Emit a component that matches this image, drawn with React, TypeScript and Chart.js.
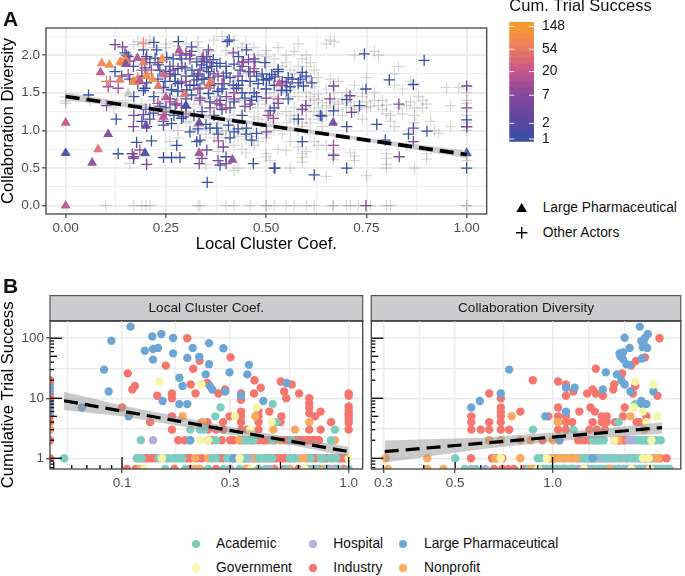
import React, { useEffect, useRef } from "react";
import { Chart, registerables } from "chart.js";
Chart.register(...registerables);

type P = [number, number];
const FONT = "'Liberation Sans', Arial, sans-serif";

/* ---------- Panel A values: [Local Cluster Coef., Collaboration Diversity] ---------- */
const otherGrey: P[] = [[.1,0],[.17,0],[.19,0],[.2,0],[.21,0],[.33,0],[.335,0],[.4,0],[.42,0],[.46,0],[.5,0],[.5,0],[.52,0],[.55,0],[.57,0],[.6,0],[.62,0],[.667,0],[.667,0],[.7,0],[.71,0],[.73,0],[.76,0],[.8,0],[.81,0],[1,0],[1,0],
[.0,.69],[.0,1.45],[.0,1.39],[.16,.56],[.2,.65],[.26,.85],[.28,.9],[.34,.65],[.35,.55],[.42,.47],[.43,.5],[.45,.7],[.47,.8],[.5,.69],[.5,.65],[.51,.6],[.5,.9],[.53,.75],[.55,.73],[.56,.5],[.59,.69],[.59,.64],[.59,.58],[.63,.8],[.65,.8],[.667,.69],[.667,.66],[.667,.62],[.71,.7],[.72,.66],[.72,.6],[.65,.39],[.75,.4],[.8,.69],[.8,.63],[.8,.55],[.8,.5],[.87,.5],[.9,.69],[.9,.62],[1,.69],[1,.65],[1,.6],[.85,.8],[.93,.96],[.96,1.05],[1,1.0],[1,1.05],[1,1.1],[1,1.2],[1,1.3],[1,1.36],[1,1.4],[1,1.5],[1,1.55],[.98,1.57],[.95,1.57],[.96,1.33],[.9,1.35],[.89,1.4],[.87,1.3],[.87,1.2],[.87,1.1],[.82,1.05],[.81,1.2],[.8,1.34],[.79,1.4],[.77,1.4],[.75,1.3],[.74,1.15],[.72,1.25],[.7,1.3],[.69,1.2],[.68,1.35],[.67,1.5],[.63,1.4],[.63,1.3],[.62,1.25],[.61,1.35],[.6,1.4],[.6,1.15],[.59,1.05],[.58,1.0],[.61,.95],[.62,.85],[.64,1.05],[.57,1.3],[.56,1.2],[.55,1.25],[.53,1.38],[.52,1.1],[.5,1.05],[.48,1.15],[.46,1.3],[.44,1.1],[.42,1.2],[.4,1.0],[.38,1.1],[.36,1.2],[.34,1.3],[.32,1.0],[.3,1.1],[.28,1.0],[.26,1.25],[.24,1.35],[.22,1.4],
[.33,2.18],[.37,2.2],[.39,2.25],[.42,2.2],[.44,2.1],[.48,2.0],[.5,2.06],[.53,2.1],[.55,2.0],[.57,2.05],[.58,2.15],[.6,2.0],[.59,1.95],[.61,1.9],[.65,2.15],[.66,2.2],[.67,2.18],[.72,2.0],[.77,2.05],[.78,2.0],[.55,1.9],[.5,1.85],[.52,1.8],[.57,1.75],[.62,1.8],[.63,1.7],[.66,1.68],[.68,1.65],[.72,1.6],[.75,1.7],[.82,1.75],[.83,1.85],[.82,1.6],[.84,1.55],[.86,1.65],[.77,1.5],[.74,1.55],[.7,1.5],[.65,1.55],[.62,1.58],[.6,1.5],[.58,1.45],[.55,1.6],[.51,1.5],[.48,1.55],[.46,1.6],[.17,2.14],[.18,2.18],[.2,2.15],[.22,2.1],[.25,2.1],[.3,2.15],[.36,2.05],[.4,2.06],[.3,1.3],[.33,1.45],[.37,1.5],[.41,1.55],[.44,1.4],[.48,1.3],[.5,1.35],[.38,1.6],[.42,1.65],[.45,1.75],[.12,1.3],[.06,1.39],[.0,1.36],[.24,1.5],[.26,1.55],[.28,1.45],[.56,1.0],[.54,.95],[.58,1.2],
[.31,1.12],[.33,1.05],[.35,.95],[.37,.9],[.39,.98],[.41,1.12],[.43,.92],[.45,.88],[.47,1.18],[.49,1.1],[.51,1.18],[.53,1.22],[.55,1.1],[.57,1.12],[.59,1.28],[.6,1.25],[.61,1.45],[.62,1.42],[.63,1.48],[.64,1.37],[.65,1.33],[.66,1.3],[.67,1.38],[.68,1.28],[.69,1.42],[.7,1.37],[.71,1.33],[.72,1.38],[.73,1.28],[.74,1.45],[.75,1.38],[.76,1.32],[.78,1.33],[.79,1.28],[.8,1.22],[.81,1.12],[.83,1.3],[.84,1.22],[.85,1.33],[.86,1.38],[.88,1.45],[.89,1.3],[.91,1.12],[.92,1.0],[.55,1.5],[.56,1.45],[.57,1.55],[.58,1.6],[.59,1.7],[.6,1.65],[.61,1.7],[.6,1.85],[.58,1.85],[.56,1.8],[.54,1.85],[.52,1.95],[.5,1.98],[.47,2.1],[.45,2.15],[.43,2.05],[.33,2.1],[.28,2.12],[.25,2.15],[.21,2.2],[.57,1.15],[.59,1.1],[.61,1.1],[.63,1.15],[.65,1.2],[.67,1.1],[.52,1.0],[.5,.95],[.48,.85],[.46,.92],[.44,.75],[.42,.8],[.4,.9],[.38,.72],[.56,.85],[.58,.78],[.6,.72],[.25,1.15],[.23,1.2],[.21,1.3],[.19,1.35],[.17,1.3],[.15,1.4],[.28,1.2],[.3,1.25],[.32,1.35],[.34,1.4],[.36,1.42],[.38,1.45],[.4,1.42],[.42,1.4],[.5,1.55],[.52,1.45],[.54,1.55],[.46,1.5],[.44,1.55],[.48,1.4]];
const otherBlue: P[] = [[.057,1.47],[.126,1.15],[.131,.69],[.177,.84],[.214,.86],[.244,.64],[.264,.64],[.285,.64],[.277,.8],[.335,.87],[.327,.85],[.353,.31],[.385,.54],[.4,.65],[.468,.56],[.52,.5],[.31,.98],[.264,1.09],[.289,1.16],[.36,1.03],[.377,1.03],[.406,1.07],[.451,1.03],[.476,.96],[.464,.87],[.194,1.53],[.198,1.56],[.202,1.63],
[.745,2.017],[.894,1.93],[.807,1.67],[.867,1.61],[.749,1.55],[.701,1.41],[.733,1.33],[.668,1.26],[.639,1.19],[.58,1.15],[.776,1.08],[.701,1.05],[.855,.95],[.901,.99],[.797,.87],[.59,.85],[.522,.5],[.62,.41],[.701,.5],[1,.5],[1,1.14],[1,1.05],[.635,1.2],
[.281,2.18],[.22,2.17],[.403,2.18],[.408,2.2],[.194,2.07],[.227,2.07],[.314,2.11],[.451,2.07],[.148,2.03],[.156,1.98],[.202,1.98],[.223,1.96],[.252,1.97],[.268,1.95],[.289,1.95],[.31,2.0],[.327,1.91],[.352,1.98],[.368,1.94],[.385,1.89],[.431,1.98],[.443,1.91],[.472,1.91],[.497,1.9],[.123,1.78],[.169,1.85],[.198,1.83],[.231,1.87],[.339,1.87],[.352,1.83],[.364,1.85],[.377,1.85],[.356,1.78],[.298,1.83],[.273,1.74],[.401,1.76],[.435,1.8],[.456,1.78],[.476,1.72],[.514,1.74],[.53,1.78],[.493,1.67],[.501,1.67],[.508,1.69],[.248,1.65],[.273,1.65],[.289,1.63],[.31,1.6],[.327,1.67],[.335,1.56],[.356,1.49],[.244,1.57],[.264,1.54],[.302,1.54],[.314,1.47],[.335,1.43],[.36,1.38],[.385,1.4],[.418,1.6],[.431,1.6],[.426,1.56],[.476,1.45],[.447,1.43],[.464,1.4],[.219,1.23],[.244,1.07],[.293,1.18],[.235,1.32],[.273,1.34],
[.522,1.71],[.53,1.81],[.555,1.7],[.551,1.53],[.555,1.42],[.538,1.53],[.59,1.77],[.593,1.59],[.614,1.63],[.51,1.26],[.52,1.3],[.565,1.68],[.585,1.68],[.54,1.65],[.345,1.68],[.32,1.72],[.41,1.3],[.44,1.2],[.42,.98],[.3,1.3],[.2,1.28],[.17,1.45],[.39,1.55],[.26,1.85],
[.14,1.72],[.16,1.68],[.18,1.62],[.19,1.72],[.21,1.9],[.235,1.8],[.25,1.78],[.26,1.72],[.28,1.82],[.3,1.72],[.315,1.8],[.33,1.75],[.345,1.92],[.36,1.7],[.37,1.62],[.38,1.52],[.395,1.62],[.41,1.7],[.42,1.88],[.44,1.66],[.46,1.65],[.48,1.62],[.5,1.55],[.47,1.5],[.44,1.5],[.42,1.38],[.39,1.28],[.37,1.2],[.34,1.25],[.32,1.2],[.3,1.42],[.28,1.52],[.26,1.42],[.25,1.3],[.22,1.45],[.21,1.15],[.19,1.12],[.27,1.2],[.35,1.08],[.33,1.02],[.38,.95],[.41,.9],[.43,1.02],[.45,.95],[.28,1.62],[.23,1.68],[.32,1.6],[.52,1.6],[.54,1.6],[.56,1.58],[.58,1.63],[.6,1.72],[.34,1.68],[.36,1.6],[.4,1.85],[.47,1.78],[.49,1.75]];
const otherPurple: P[] = [[.123,2.14],[.142,2.11],[.152,2.0],[.285,2.0],[.314,2.05],[.343,1.98],[.356,2.07],[.268,1.8],[.335,1.8],[.393,1.72],[.418,2.03],[.456,1.94],[.46,1.78],[.385,1.34],[.401,1.45],[.447,1.32],[.102,1.33],[.169,1.05],[.194,1.21],[.202,1.05],[.244,1.12],[.166,.69],[.169,.63],[.202,.55],[.333,.56],[.352,.74],[.393,.78],[.4,.56],[.501,.98],[.668,1.59],[.709,1.46],[.659,1.42],[.599,1.33],[.713,1.24],[.831,1.35],[1,1.59],[.668,.67],[.832,.65],[.867,1.03],[.867,.85],[.749,0],[1,1.05],[.31,1.95],[.38,1.72],[.34,1.95],
[.16,1.92],[.2,1.95],[.23,1.9],[.26,1.75],[.29,1.85],[.3,2.02],[.33,1.72],[.36,1.9],[.37,1.75],[.39,1.62],[.43,1.72],[.47,1.95],[.44,1.85],[.17,1.2],[.21,1.28],[.3,1.22],[.36,1.3],[.42,1.42],[.46,1.35],[.5,1.43],[.53,1.36],[.55,1.63],[.59,1.28],[.17,.65],[.34,.63],[.38,.6],[.25,1.25]];
const otherPink: P[] = [[.131,1.56],[.106,1.58],[.111,1.65],[.156,1.74],[.214,1.8],[.277,1.36],[.289,1.33],[.335,1.4],[.377,1.36],[.244,1.21],[.381,.86],[.185,.74],[.518,1.16],[1,1.3],[.668,.8],[.53,1.42],[.505,1.2],[.23,1.36],[.26,1.38],[.3,1.65],[.33,1.55],[.4,1.3],[.42,1.5],[.19,1.8],[.44,1.9],[.47,1.82]];
const otherCoral: P[] = [[.194,2.16],[.102,1.65],[.205,1.75],[.18,1.7]];
const pharmaPts: P[] = [[.09,1.89],[.109,1.87],[.136,1.91],[.149,1.94],[.14,1.9],[.15,1.88],[.179,1.96],[.194,1.9],[.241,1.95],[.283,2.06],[.087,1.77],[.135,1.67],[.169,1.65],[.173,1.64],[.184,1.66],[.202,1.72],[.217,1.68],[.244,1.74],[.231,1.59],[.362,1.65],[.356,1.59],[.296,1.48],[.25,1.44],[.156,1.49],[.3,1.33],[.244,1.18],[.333,1.1],[.2,1.06],[0,1.1],[.106,.95],[0,.7],[.081,.75],[.066,.57],[.198,.7],[.333,.7],[.416,.61],[0,0],[.533,1.62],[.667,1.1],[1,.7]];
const pharmaSuccess = [70,90,100,110,95,6,14,55,100,13,17,55,100,90,20,90,100,30,45,55,45,45,18,0,1,16,3,3,18,5,1.2,40,7,1.2,10,6,14,20,4,1];

const lineAX = [0, 1];
const lineAY = [1.45, .68];
const ribbonAX = [0, .25, .5, .75, 1];
const ribbonAHi = [1.5, 1.295, 1.095, .9, .73];
const ribbonALo = [1.4, 1.245, 1.055, .85, .63];

const axisAXTicks = [0, .125, .25, .375, .5, .625, .75, .875, 1];
const axisAXMajor = [0, .25, .5, .75, 1];
const axisAYTicks = [0, .25, .5, .75, 1, 1.25, 1.5, 1.75, 2, 2.25];
const axisAYMajor = [0, .5, 1, 1.5, 2];

/* ---------- colour scale ---------- */
const successStops = [1, 2, 7, 20, 54, 148];
const colourStops = [[58, 79, 166], [88, 71, 158], [133, 72, 155], [198, 85, 143], [235, 122, 98], [249, 155, 46]];
const legendBreaks = [1, 2, 7, 20, 54, 148];
const binEdges = [.887, 1.16, 1.51, 1.97, 2.57, 3.36, 4.38, 5.72, 7.46, 9.74, 12.7, 16.6, 21.6, 28.2, 36.8, 48.1, 62.7, 81.8, 107, 139, 181];

function successColour(v: number) {
  const l = Math.log10(Math.max(v, 1));
  for (let i = 0; i < successStops.length - 1; i++) {
    const a = Math.log10(successStops[i]), b = Math.log10(successStops[i + 1]);
    if (l <= b || i === successStops.length - 2) {
      const t = Math.min(1, (l - a) / (b - a));
      const c = colourStops[i].map((q, k) => Math.round(q + (colourStops[i + 1][k] - q) * t));
      return `rgb(${c[0]},${c[1]},${c[2]})`;
    }
  }
  return "rgb(249,155,46)";
}

/* ---------- Panel B values: [x, Cumulative Trial Success] ---------- */
const row = (xs: number[], y: number): P[] => xs.map((x) => [x, y] as P);
const ZERO = .663; // a count of 0 sits on the lower panel edge of the log axis
const EDGE_L = .0481;

const lccPharma: P[] = [[.109,156],[.0897,91],[.0833,30],[.0873,13],[.136,107],[.149,118],[.168,101],[.126,62],[.137,66],[.144,69],[.137,44],[.168,56],[.205,69],[.194,47],[.219,49],[.242,83],[.28,68],[.242,37],[.234,25],[.298,27],[.363,36],[.357,25],[.179,22],[.185,16],[.244,16],[.25,14],[.285,13],[.335,11],[.151,9],[.179,8],[.194,8],[.42,9],[.532,18],[.0664,7],[.107,5],[.2,2],[.31,1],[EDGE_L,15],[EDGE_L,13],[EDGE_L,8],[EDGE_L,6]];
const lccIndustry: P[] = [[.194,100],[.301,48],[.22,42],[.156,35],[.206,31],[.106,26],[.114,16],[.111,14],[.238,18],[.201,17],[.211,12],[.266,12],[.285,14],[.143,11],[.166,12],[.166,10],[.384,20],[.409,15],[.382,12],[.335,12],[.335,9.4],[.501,19],[.519,13],[.53,10],[.561,17],[.604,12],[.67,10],[.67,8.2],[.67,7],[.67,5.6],[.71,5],[.752,6],[.836,4],[1,12],[1,11],[1,7.3],[1,6.4],[1,5.6],[1,5],[1,4.4],[1,3.9],[1,3],[.1,7],[.133,4],[.166,5],[.166,3],[.298,5],[.279,4],[.238,4],[.225,4],[.335,6],[.335,5],[.335,4],[.335,3],[.355,3],[.4,6],[.4,5],[.4,4],[.4,3],[.447,6],[.505,5],[.5,4],[.67,3],[.752,3],[.24,3],[.26,3],[.28,3],
...row([.177,.19,.24,.25,.275,.3,.31,.33,.34,.37,.38,.4,.42,.43,.45,.47,.5,.52,.54,.58,.6,.61,.63,.65,.66,.68,.69,.7,.72,.74], 2),
...row([.12,.125,.128,.13,.135,.14,.15,.19,.195,.2,.215,.225,.27,.28,.31,.35,.36,.38,.4,.43,.45,.47,.48,.5,.52,.54,.66,.7,.72,.78,.8,.85,.9,.92,.94,.97], 1),
...row([.105,.115,.17,.2,.22,.26,.3,.36,.4,.47,.52,.6,.68,.74,.82,.87,.95], ZERO),
[EDGE_L,20],[EDGE_L,17],[EDGE_L,11],[EDGE_L,9],[EDGE_L,7],[EDGE_L,5],[EDGE_L,4],[EDGE_L,3],[EDGE_L,2],[EDGE_L,1]];
const lccAcademic: P[] = [[.0555,1],[.121,2],[.272,7],[.258,5],[.462,8],[.2,3],[.22,3],[.23,3],[.87,3],[.836,2],[.36,2],[.48,4],[.2,2],[.26,2],[.35,2],[.38,2],[.46,2],[.56,2],
...row([.116,.122,.145,.158,.16,.168,.172,.175,.18,.185,.25,.26,.29,.3,.315,.33,.345,.35,.4,.42,.44,.46,.55,.58,.68,.75,.77,.83,.88], 1),
...row([.155,.19,.24,.28,.33,.4,.43,.53,.66,.72,.8,.9,1], ZERO)];
const lccGovernment: P[] = [[.146,19],[.224,17],[.393,7],[.315,5],[.457,4],[.221,2],[.24,2],[.15,1],[1,1],[.367,3],[.33,1],...row([.125,.37,.64], ZERO)];
const lccNonprofit: P[] = [[.185,5],[.227,4],[.387,5],[.67,4],[.58,3],[.465,3],[.87,2],[.33,2],[.5,2],...row([.21,.24,.25,.39,.41,.62,.65], 1),...row([.12,.21,.22,.35,.55,.78], ZERO),[EDGE_L,3]];
const lccHospital: P[] = [[.137,2],...row([.37,.55,.57,.6,.76], 1),...row([.24,.3,.45,.7,.85], ZERO)];

const divPharma: P[] = [[1.86,156],[1.67,102],[1.97,118],[1.93,102],[1.88,90],[1.73,69],[1.65,58],[1.61,56],[1.9,71],[1.96,69],[1.89,46],[1.65,45],[1.69,37],[1.73,36],[1.46,27],[1.58,25],[1.63,20],[1.67,17],[1.43,14],[1.17,15],[1.1,15],[.734,30],[.596,9],[.561,7],[.692,12],[1.74,13],[2.05,13],[1.88,9],[1.95,8],[1.89,8],[1.1,6],[.95,5],[1.05,2],[1.33,1],[1.91,85],[1.62,50]];
const divIndustry: P[] = [[2.14,100],[1.81,42],[1.93,48],[1.75,35],[1.64,26],[1.36,31],[.869,20],[1.04,19],[1.1,17],[1.1,11],[1.16,13],[1.28,12],[1.33,14],[1.36,12],[1.43,11],[1.55,17],[1.54,14],[1.8,16],[1.77,12],[2.11,11],[.637,12],[.692,10],[.692,7],[.692,6],[.692,5],[.692,4],[.692,3],[.734,3],[.795,6],[.561,5],[.561,4],[.561,3],[.6,3],[.637,4],[.637,3],[.637,2],[1.04,7],[1.04,5],[1.04,4],[1.04,3],[.97,5],[1.1,5],[1.1,4],[1.1,3],[1.15,4],[1.21,6],[1.31,7],[1.35,6],[1.42,5],[1.47,5],[1.47,4],[1.42,4],[1.56,4],[1.67,7],[1.65,5],[1.82,4],[1.86,4],[1.95,5],[1.33,4],[1.3,3],[1.37,3],[1.45,3],
...row([1.2,1.23,1.26,1.3,1.35,1.55,1.6,1.62,1.65,1.68,1.05,.93], 2),
...row([.56,.65,.67,.7,.97,1.0,1.02,1.08,1.15,1.2,1.25,1.4,1.5,1.7,2.0,2.15,2.25], 1),
...row([.66,.7,.73,.76,.82,.88,.94,1,1.03,1.08,1.1,1.15,1.2,1.25,1.33,1.4,1.5,1.55,1.6,1.65,1.72,1.85,1.92,1.95,2], ZERO)];
const divAcademic: P[] = [[.5,1],[.87,3],[1.16,3],[1.42,2],[1.37,2],[1.4,2],[1.33,2],[1.38,2],[1.44,2],[1.8,8],[1.6,4],[1.92,3],[1.88,2],[1.98,2],[2.06,2],[1.84,2],[1.9,2],[1.94,2],[2.1,2],[2.16,2],
...row([.9,.92,1.08,1.22,1.26,1.28,1.32,1.35,1.45,1.48,1.55,1.6,1.7,1.78,1.85,1.88,1.95,2.04], 1),
...row([.535,.58,.84,.88,.92,.96,1,1.03,1.06,1.1,1.13,1.17,1.25,1.28,1.35,1.42,1.46,1.52,1.6,1.68,1.75,1.82,1.9,2.05,2.12,2.2,2.28], ZERO)];
const divGovernment: P[] = [[1.8,19],[2.05,17],[1.78,7],[2.1,5],[1.9,6],[.692,1],[1.55,2],[1.95,4],[2.02,2],[.96,1],[1.9,1],[1.98,1],...row([.9,1.25,1.75,2.0], ZERO)];
const divNonprofit: P[] = [[.747,5],[1.04,4],[1.74,5],[.305,1],[.41,1],[.664,1],[.795,1],[.692,2],[.795,2],[.855,2],[1,2],[.637,2],[1.92,3],[1.6,2],[.99,1],[1,1],[1.05,1],[1.1,1],[1.13,1],[1.18,1],[1.96,1],[2,1],[2.1,1],[2.12,1],[1.92,1],...row([.31,.41,.46,.86,.9,1.5], ZERO)];
const divHospital: P[] = [[1.72,2],[1.75,2],[1.78,2],[1.82,2],[1.9,2],[1.95,2],[2,2],[1.2,1],[1.27,1],[1.3,1],[1.35,1],[1.38,1],[1.42,1],[1.46,1],[1.5,1],[1.55,1],[1.6,1],[1.65,1],[1.7,1],[1.75,1],[1.8,1],[1.86,1],[1.92,1],[2.02,1],[2.08,1],...row([.56,.62,.95,.98,1.08,1.15,1.22,1.25,1.3,1.36,1.4,1.48,1.56,1.62,1.7,1.78,1.8,1.88,1.96,2.05,2.1,2.15,2.25,2.3], ZERO)];

const lineLX = [.0555, 1];
const lineLY = [9.1, 1.29];
const ribbonLX = [.0555, .1, .3, .5, 1];
const ribbonLHi = [12.9, 7.6, 3.35, 2.37, 1.56];
const ribbonLLo = [6.4, 5, 2.5, 1.8, 1.07];
const lineRX = [.303, 2.18];
const lineRY = [1.29, 3.24];
const ribbonRX = [.303, .6, 1, 1.5, 2.18];
const ribbonRHi = [1.97, 2.2, 2.7, 3.2, 4];
const ribbonRLo = [.85, 1.42, 1.9, 2.25, 2.6];

const yGridB = [1, 3.16, 10, 31.6, 100];
const yMajorB = [1, 10, 100];
const xGridL = [.0578, .1, .173, .3, .548, 1];
const xMajorL = [.1, .3, 1];
const xGridR = [.3, .387, .5, .707, 1, 1.29, 1.67];
const xMajorR = [.3, .5, 1];
const logY = [.7, .8, .9, 1, 2, 3, 4, 5, 6, 7, 8, 9, 10, 20, 30, 40, 50, 60, 70, 80, 90, 100];
const logXL = [.05, .06, .07, .08, .09, .1, .2, .3, .4, .5, .6, .7, .8, .9, 1];
const logXR = [.3, .4, .5, .6, .7, .8, .9, 1, 2];

const C = { academic: "#7CCFC0", government: "#F7F5A8", hospital: "#B3AEDB", industry: "#F6766E", pharma: "#6CA6D6", nonprofit: "#FBA95C" };
const bottomLegend = [
  { label: "Academic", colour: C.academic, cx: 196, lx: 216, cy: 544 },
  { label: "Government", colour: C.government, cx: 196, lx: 216, cy: 568 },
  { label: "Hospital", colour: C.hospital, cx: 312.7, lx: 333.3, cy: 544 },
  { label: "Industry", colour: C.industry, cx: 312.7, lx: 333.3, cy: 568 },
  { label: "Large Pharmaceutical", colour: C.pharma, cx: 403.3, lx: 424, cy: 544 },
  { label: "Nonprofit", colour: C.nonprofit, cx: 403.3, lx: 424, cy: 568 },
];

/* ---------- helpers ---------- */
const GRID = "#EBEBEB";
const TICK = "#4D4D4D";
const TITLE_SIZE = 16.6;

const xy = (p: P[]) => p.map(([x, y]) => ({ x, y }));
const zip = (xs: number[], ys: number[]) => xs.map((x, i) => ({ x, y: ys[i] }));

function ribbon(xs: number[], hi: number[], lo: number[], colour: string) {
  return [
    { type: "line", data: zip(xs, hi), borderWidth: 0, pointRadius: 0, backgroundColor: colour, fill: "+1", tension: 0, clip: 0 },
    { type: "line", data: zip(xs, lo), borderWidth: 0, pointRadius: 0, fill: false, tension: 0, clip: 0 },
  ];
}
function dashed(xs: number[], ys: number[], width: number) {
  return { type: "line", data: zip(xs, ys), borderColor: "#000", borderWidth: width, borderDash: [14, 7], pointRadius: 0, fill: false, tension: 0, clip: 0 };
}
function pts(p: P[], colour: string) {
  return { data: xy(p), pointStyle: "circle", pointRadius: 4.2, pointHoverRadius: 4.2, pointBorderWidth: 0, pointBackgroundColor: colour, backgroundColor: colour, showLine: false, clip: 0 };
}
function crosses(p: P[], colour: string, w = 1.3) {
  return { data: xy(p), pointStyle: "cross", pointRadius: 5.6, pointBorderColor: colour, borderColor: colour, pointBorderWidth: w, showLine: false, clip: 0 };
}

function axis(o: {
  type?: string; min: number; max: number; grid: number[]; major: number[]; size: number; horizontal: boolean;
  labels?: boolean; fmt: (v: number) => string; title?: string; titlePad?: any; tickLen?: number; minorW?: number; majorW?: number; position?: string;
}) {
  const isMajor = (v: number) => o.major.some((m) => Math.abs(m - v) < 1e-6);
  return {
    type: o.type ?? "linear",
    position: o.position ?? (o.horizontal ? "bottom" : "left"),
    min: o.min,
    max: o.max,
    afterBuildTicks: (s: any) => { s.ticks = o.grid.map((value) => ({ value })); },
    afterFit: (s: any) => {
      if (o.horizontal) s.height = o.size; else s.width = o.size;
      s.paddingTop = s.paddingBottom = s.paddingLeft = s.paddingRight = 0;
    },
    title: o.title ? { display: true, text: o.title, color: "#000", font: { family: FONT, size: TITLE_SIZE, lineHeight: 1 }, padding: o.titlePad ?? 0 } : { display: false },
    grid: {
      color: GRID,
      drawTicks: o.labels !== false,
      tickLength: o.tickLen ?? 4,
      lineWidth: (c: any) => (isMajor(c.tick?.value) ? (o.majorW ?? 1.7) : (o.minorW ?? .8)),
      tickColor: (c: any) => (isMajor(c.tick?.value) ? "#333" : "rgba(0,0,0,0)"),
      tickWidth: 1.1,
    },
    border: { display: false },
    ticks: {
      display: o.labels !== false,
      autoSkip: false,
      maxRotation: 0,
      minRotation: 0,
      color: TICK,
      padding: 2,
      font: { family: FONT, size: 13.5 },
      callback: (v: any) => (isMajor(Number(v)) ? o.fmt(Number(v)) : ""),
    },
  };
}

const framePlugin = {
  id: "frame",
  beforeDraw(chart: any, _a: any, opts: any) {
    if (!opts.strip) return;
    const { ctx, chartArea: c } = chart;
    ctx.save();
    ctx.fillStyle = "#CDCDCF";
    ctx.fillRect(c.left, .5, c.right - c.left, c.top);
    ctx.strokeStyle = "#555";
    ctx.lineWidth = 1.2;
    ctx.strokeRect(c.left, .6, c.right - c.left, c.top);
    ctx.restore();
  },
  afterDatasetsDraw(chart: any, _a: any, opts: any) {
    const { ctx, chartArea: c, scales } = chart;
    ctx.save();
    ctx.strokeStyle = "#000";
    ctx.lineWidth = 1.3;
    const len = (v: number) => {
      const m = Math.log10(v) % 1;
      const f = Math.abs(v / Math.pow(10, Math.floor(Math.log10(v) + 1e-9)));
      if (Math.abs(m) < 1e-6) return 12;
      return Math.abs(f - 5) < 1e-6 ? 7 : 4;
    };
    (opts.logY ?? []).forEach((v: number) => {
      const y = scales.y.getPixelForValue(v);
      ctx.beginPath(); ctx.moveTo(c.left, y); ctx.lineTo(c.left + len(v), y); ctx.stroke();
    });
    (opts.logX ?? []).forEach((v: number) => {
      const x = scales.x.getPixelForValue(v);
      if (x < c.left) return;
      ctx.beginPath(); ctx.moveTo(x, c.bottom); ctx.lineTo(x, c.bottom - len(v)); ctx.stroke();
    });
    ctx.strokeStyle = "#444";
    ctx.lineWidth = 1.3;
    ctx.strokeRect(c.left, c.top, c.right - c.left, c.bottom - c.top);
    ctx.restore();
  },
};

const barTicksPlugin = {
  id: "barTicks",
  afterDatasetsDraw(chart: any) {
    const { ctx, chartArea: c, scales } = chart;
    ctx.save();
    ctx.strokeStyle = "rgba(255,255,255,.9)";
    ctx.lineWidth = 1;
    legendBreaks.forEach((v) => {
      const y = scales.y.getPixelForValue(v);
      ctx.beginPath(); ctx.moveTo(c.left, y); ctx.lineTo(c.left + 5, y);
      ctx.moveTo(c.right - 5, y); ctx.lineTo(c.right, y); ctx.stroke();
    });
    ctx.restore();
  },
};

function base(padding: any, scales: any, extra: any = {}) {
  return {
    responsive: false,
    animation: false,
    events: [],
    layout: { padding },
    scales,
    plugins: { legend: { display: false }, tooltip: { enabled: false }, ...extra },
  };
}

const sTitle = (text: string) => ({
  display: true, text, color: "#1A1A1A", fullSize: false,
  font: { family: FONT, size: 13.6, lineHeight: 1.2, weight: "normal" },
  padding: { top: 4.6, bottom: 4.78 },
});

function panelB(points: any[], line: any, rib: any[], x: any, y: any, logX: number[], title: string, padding: any) {
  return {
    type: "scatter",
    data: { datasets: [line, ...rib, ...points] },
    options: base(padding, { x, y }, { title: sTitle(title), frame: { strip: true, logX, logY } }),
    plugins: [framePlugin],
  };
}

const RIB_B = "rgba(150,150,152,.5)";

function makeConfigs() {
  const fmt2 = (v: number) => v.toFixed(2);
  const fmt1 = (v: number) => v.toFixed(1);
  const fmtI = (v: number) => String(v);

  const triData = xy(pharmaPts);
  const triColours = pharmaSuccess.map((s) => (s === 0 ? "rgba(170,170,170,.6)" : successColour(s).replace("rgb", "rgba").replace(")", ",.92)")));

  const a = {
    type: "scatter",
    data: {
      datasets: [
        dashed(lineAX, lineAY, 3.6),
        ...ribbon(ribbonAX, ribbonAHi, ribbonALo, "rgba(175,175,178,.6)"),
        { data: triData, pointStyle: "triangle", pointRadius: 5.8, pointBorderWidth: 0, pointBackgroundColor: triColours, showLine: false, clip: 0 },
        crosses(otherCoral, successColour(60)),
        crosses(otherPink, successColour(13)),
        crosses(otherPurple, successColour(5)),
        crosses(otherBlue, successColour(1)),
        crosses(otherGrey, "rgba(120,120,120,.3)", 1.2),
      ],
    },
    options: base({ top: 28, right: 13.3, left: 0, bottom: 0 }, {
      x: axis({ min: -.049, max: 1.05, grid: axisAXTicks, major: axisAXMajor, size: 48, horizontal: true, fmt: fmt2, title: "Local Cluster Coef.", titlePad: { top: 0, bottom: 9 } }),
      y: axis({ min: -.11, max: 2.36, grid: axisAYTicks, major: axisAYMajor, size: 46, horizontal: false, fmt: fmt1, title: "Collaboration Diversity", titlePad: { top: 0, bottom: 0 } }),
    }, { frame: {} }),
    plugins: [framePlugin],
  };

  const yL = axis({ type: "logarithmic", min: .663, max: 196, grid: yGridB, major: yMajorB, size: 50, horizontal: false, fmt: fmtI, title: "Cumulative Trial Success", majorW: 1.5, minorW: 1.5 });
  const yR = axis({ type: "logarithmic", min: .663, max: 196, grid: yGridB, major: yMajorB, size: 5.3, horizontal: false, fmt: fmtI, labels: false, majorW: 1.5, minorW: 1.5 });
  const xL = axis({ type: "logarithmic", min: .0481, max: 1.153, grid: xGridL, major: xMajorL, size: 31, horizontal: true, fmt: fmt1, majorW: 1.5, minorW: 1.2 });
  const xR = axis({ type: "logarithmic", min: .2754, max: 2.49, grid: xGridR, major: xMajorR, size: 31, horizontal: true, fmt: fmt1, majorW: 1.5, minorW: 1.2 });

  const stackL = [pts(lccGovernment, C.government), pts(lccPharma, C.pharma), pts(lccAcademic, C.academic), pts(lccNonprofit, C.nonprofit), pts(lccHospital, C.hospital), pts(lccIndustry, C.industry)];
  const stackR = [pts(divGovernment, C.government), pts(divPharma, C.pharma), pts(divNonprofit, C.nonprofit), pts(divAcademic, C.academic), pts(divHospital, C.hospital), pts(divIndustry, C.industry)];

  const bl = panelB(stackL, dashed(lineLX, lineLY, 3.2), ribbon(ribbonLX, ribbonLHi, ribbonLLo, RIB_B), xL, yL, logXL, "Local Cluster Coef.", { top: 0, left: 0, right: 5.3, bottom: 0 });
  const br = panelB(stackR, dashed(lineRX, lineRY, 3.2), ribbon(ribbonRX, ribbonRHi, ribbonRLo, RIB_B), xR, yR, logXR, "Collaboration Diversity", { top: 0, left: 0, right: 0, bottom: 0 });

  const bins = binEdges.slice(0, -1).map((lo, i) => ({
    data: [[lo, binEdges[i + 1]]],
    backgroundColor: successColour(Math.sqrt(lo * binEdges[i + 1])),
    borderWidth: 0,
    barPercentage: 1,
    categoryPercentage: 1,
  }));
  const bar = {
    type: "bar",
    data: { labels: ["Cum. Trial Success"], datasets: bins },
    options: base({ top: 0, left: 0.3, right: 0, bottom: 5.3 }, {
      x: { display: false, stacked: true, grid: { display: false } },
      y: {
        type: "logarithmic", position: "right", min: .887, max: 181, stacked: false,
        afterBuildTicks: (s: any) => { s.ticks = legendBreaks.map((value) => ({ value })); },
        afterFit: (s: any) => { s.width = 151; s.paddingTop = s.paddingBottom = 0; },
        grid: { display: false, drawTicks: false },
        border: { display: false },
        ticks: { autoSkip: false, color: "#111", padding: 8, font: { family: FONT, size: 13.8 }, callback: (v: any) => String(v) },
      },
    }, {
      title: { display: true, align: "start", text: "Cum. Trial Success", color: "#111", font: { family: FONT, size: 16.5, weight: "normal", lineHeight: 1.2 }, padding: { top: 0, bottom: 5.2 } },
    }),
    plugins: [barTicksPlugin],
  };
  return { a, bl, br, bar };
}

function ChartCanvas({ cfg, left, top, width, height }: any) {
  const ref = useRef<HTMLCanvasElement>(null);
  useEffect(() => {
    const chart = new Chart(ref.current as any, cfg());
    return () => chart.destroy();
  }, []);
  return <canvas ref={ref} width={width} height={height} style={{ position: "absolute", left, top, width, height, display: "block" }} />;
}

const textStyle = (left: number, cy: number, size = 13.8, weight = "normal"): React.CSSProperties => ({
  position: "absolute", left, top: cy - size * .6 + .6, lineHeight: `${size * 1.2}px`, fontSize: size, fontWeight: weight as any, color: "#111", fontFamily: FONT, whiteSpace: "nowrap",
});

export default function App() {
  const cfgs = useRef<any>(null);
  if (!cfgs.current) cfgs.current = makeConfigs();
  const c = cfgs.current;
  return (
    <div style={{ position: "absolute", left: 0, top: 0, width: 685, height: 576, background: "#fff", overflow: "hidden" }}>
      <ChartCanvas cfg={() => c.a} left={0} top={0} width={500} height={262} />
      <ChartCanvas cfg={() => c.bar} left={509} top={-3} width={176} height={150} />
      <ChartCanvas cfg={() => c.bl} left={0} top={295} width={368} height={205} />
      <ChartCanvas cfg={() => c.br} left={366} top={295} width={319} height={205} />
      <div style={textStyle(3, 18, 21, "bold")}>A</div>
      <div style={textStyle(3, 285, 21, "bold")}>B</div>
      <svg width={16} height={40} style={{ position: "absolute", left: 514, top: 200 }}>
        <polygon points="7.7,3 13,12 2.4,12" fill="#000" />
        <path d="M2,32.7H13.4M7.7,27V38.4" stroke="#000" strokeWidth={1.4} fill="none" />
      </svg>
      <div style={textStyle(542.7, 208)}>Large Pharmaceutical</div>
      <div style={textStyle(542.7, 232.7)}>Other Actors</div>
      {bottomLegend.map((e) => (
        <React.Fragment key={e.label}>
          <span style={{ position: "absolute", left: e.cx - 4, top: e.cy - 4, width: 8, height: 8, borderRadius: 4, background: e.colour }} />
          <div style={textStyle(e.lx, e.cy)}>{e.label}</div>
        </React.Fragment>
      ))}
    </div>
  );
}
